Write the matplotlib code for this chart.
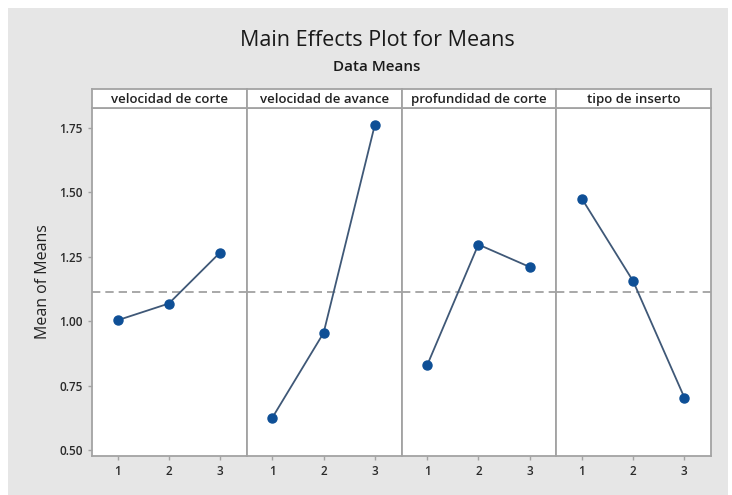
import matplotlib.pyplot as plt
from matplotlib.patches import Rectangle

plt.rcParams['font.family'] = ['Open Sans', 'DejaVu Sans']

factors = ["velocidad de corte", "velocidad de avance",
           "profundidad de corte", "tipo de inserto"]
levels = [1, 2, 3]
means_corte = [1.004, 1.069, 1.267]
means_avance = [0.626, 0.955, 1.763]
means_profundidad = [0.829, 1.298, 1.211]
means_inserto = [1.476, 1.156, 0.704]
grand_mean = 1.114
y_ticks = [0.50, 0.75, 1.00, 1.25, 1.50, 1.75]

series = [means_corte, means_avance, means_profundidad, means_inserto]

W, H = 732, 495
fig = plt.figure(figsize=(W / 100, H / 100), dpi=100)
fig.patch.set_facecolor("white")
# grey graph region (the white strip on top is part of the page)
fig.patches.append(Rectangle((8 / W, 0), 720 / W, 487 / H, transform=fig.transFigure,
                             facecolor="#e6e6e6", edgecolor="none", zorder=-10))

frame = "#a3a3a3"
left, right, top, bottom = 92, 711, 108, 456
pw = (right - left) / 4

for i, (name, vals) in enumerate(zip(factors, series)):
    x0 = left + i * pw
    ax = fig.add_axes([x0 / W, (H - bottom) / H, pw / W, (bottom - top) / H])
    ax.set_facecolor("white")
    ax.axhline(grand_mean, color="#9a9a9a", lw=1.2, ls=(0, (5, 3)), zorder=1)
    ax.plot(levels, vals, "-", color="#3f5877", lw=1.3, zorder=2)
    ax.plot(levels, vals, "o", color="#0e4f96", ms=6.5, mec="#0e4f96", zorder=3)
    ax.set_xlim(0.5, 3.52)
    ax.set_ylim(0.477, 1.828)
    ax.set_xticks(levels)
    ax.set_yticks(y_ticks)
    ax.tick_params(colors=frame, labelcolor="#2a2a2a", length=3, width=1, labelsize=8.5)
    for lab in ax.get_xticklabels() + ax.get_yticklabels():
        lab.set_fontweight("semibold")
    if i == 0:
        ax.set_yticklabels(["%.2f" % v for v in y_ticks], fontweight="semibold")
        ax.set_ylabel("Mean of Means", fontsize=11.5, color="#222222", labelpad=6)
    else:
        ax.tick_params(axis="y", left=False, labelleft=False)
    for s in ax.spines.values():
        s.set_color(frame)
        s.set_linewidth(1.3)

    sx = fig.add_axes([x0 / W, (H - top) / H, pw / W, 19 / H])
    sx.set_facecolor("white")
    sx.set_xticks([])
    sx.set_yticks([])
    for s in sx.spines.values():
        s.set_color(frame)
        s.set_linewidth(1.3)
    sx.text(0.5, 0.45, name, ha="center", va="center", fontsize=9.5,
            fontweight="semibold", color="#222222", transform=sx.transAxes)

fig.text(377 / W, 1 - 41 / H, "Main Effects Plot for Means", ha="center", va="center",
         fontsize=15.5, color="#1a1a1a")
fig.text(377 / W, 1 - 67 / H, "Data Means", ha="center", va="center",
         fontsize=11, fontweight="semibold", color="#1a1a1a")

fig.savefig("out.png", dpi=100)
